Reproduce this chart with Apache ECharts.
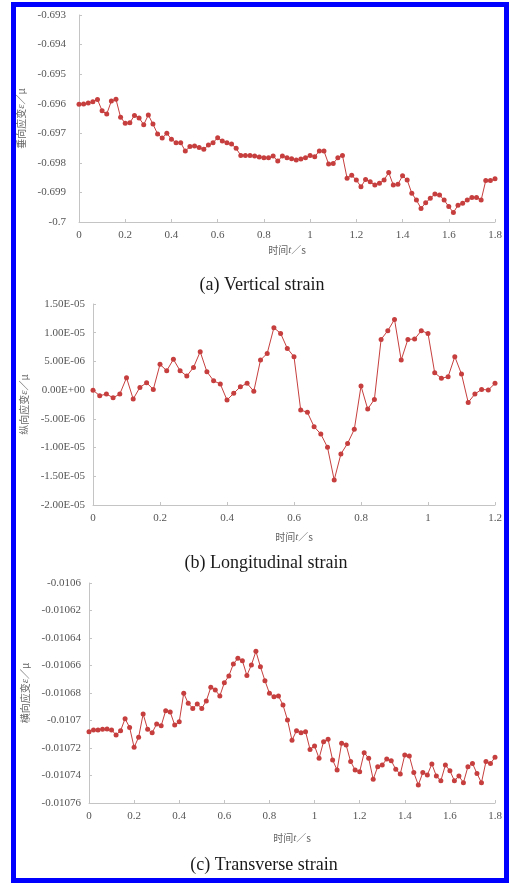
<!DOCTYPE html>
<html>
<head>
<meta charset="utf-8">
<script src="https://cdn.jsdelivr.net/npm/echarts@6/dist/echarts.min.js"></script>
<style>
    html, body { margin: 0; padding: 0; background: #fff; }
    #chart { position: absolute; left: 0; top: 0; width: 509px; height: 883px; }
    #frame { position: absolute; left: 11px; top: 2px; width: 498px; height: 881px;
             box-sizing: border-box; border: 5px solid #0000ff; pointer-events: none; }
</style>
</head>
<body>
<div id="chart"></div>
<div id="frame"></div>
<script>
// sampling step of all three records (s)
var dt = 0.02;

// (a) vertical strain, 0 - 1.8 s
var verticalStrain = [
    -0.69602, -0.69601, -0.69598, -0.69593, -0.69586, -0.69624, -0.69635, -0.69591, -0.69585, -0.69646,
    -0.69666, -0.69664, -0.69640, -0.69648, -0.69671, -0.69638, -0.69669, -0.69702, -0.69716, -0.69700,
    -0.69720, -0.69732, -0.69732, -0.69760, -0.69745, -0.69743, -0.69748, -0.69754, -0.69740, -0.69732,
    -0.69715, -0.69726, -0.69732, -0.69736, -0.69751, -0.69775, -0.69775, -0.69775, -0.69777, -0.69780,
    -0.69783, -0.69783, -0.69777, -0.69794, -0.69777, -0.69783, -0.69786, -0.69790, -0.69787, -0.69783,
    -0.69775, -0.69779, -0.69760, -0.69760, -0.69804, -0.69802, -0.69783, -0.69775, -0.69852, -0.69842,
    -0.69858, -0.69881, -0.69856, -0.69864, -0.69875, -0.69869, -0.69858, -0.69833, -0.69875, -0.69872,
    -0.69844, -0.69858, -0.69903, -0.69926, -0.69954, -0.69935, -0.69920, -0.69905, -0.69909, -0.69926,
    -0.69948, -0.69968, -0.69943, -0.69937, -0.69926, -0.69917, -0.69917, -0.69926, -0.69860, -0.69860,
    -0.69854
];

// (b) longitudinal strain, 0 - 1.2 s, in units of 1E-06
var longitudinalStrain = [
    0, -0.97, -0.68, -1.32, -0.68, 2.16, -1.55, 0.48, 1.29, 0.13,
    4.49, 3.38, 5.36, 3.38, 2.45, 3.96, 6.69, 3.21, 1.64, 1.06,
    -1.72, -0.56, 0.60, 1.18, -0.20, 5.24, 6.40, 10.87, 9.88, 7.27,
    5.82, -3.46, -3.87, -6.37, -7.64, -9.96, -15.65, -11.12, -9.27, -6.83,
    0.71, -3.29, -1.61, 8.84, 10.35, 12.32, 5.24, 8.84, 8.90, 10.35,
    9.88, 3.03, 2.05, 2.34, 5.82, 2.80, -2.13, -0.68, 0.13, 0.02,
    1.18
];
var longitudinalUnit = 1e-6;

// (c) transverse strain, 0 - 1.8 s, in units of 1E-06
var transverseStrain = [
    -10708.1, -10706.9, -10706.9, -10706.4, -10706.2, -10706.9, -10710.5, -10707.4, -10698.7, -10705.0,
    -10719.5, -10712.2, -10695.3, -10706.4, -10708.9, -10702.5, -10703.8, -10692.9, -10693.8, -10703.3,
    -10700.9, -10680.2, -10687.5, -10691.2, -10688.0, -10691.2, -10685.8, -10675.9, -10677.8, -10682.2,
    -10672.5, -10667.6, -10658.9, -10654.8, -10656.5, -10667.2, -10659.6, -10649.7, -10660.9, -10671.0,
    -10680.2, -10682.7, -10682.2, -10688.7, -10699.6, -10714.4, -10707.4, -10708.9, -10708.1, -10721.0,
    -10718.5, -10727.5, -10715.4, -10713.7, -10728.7, -10736.0, -10716.6, -10717.8, -10729.9, -10736.0,
    -10737.2, -10723.4, -10727.5, -10742.8, -10733.6, -10732.4, -10728.0, -10729.2, -10735.5, -10738.9,
    -10725.1, -10725.8, -10737.9, -10746.9, -10737.9, -10739.6, -10731.6, -10740.4, -10743.8, -10732.4,
    -10736.5, -10743.8, -10740.4, -10745.2, -10733.6, -10731.2, -10738.5, -10745.2, -10729.9, -10731.2,
    -10726.8
];
var transverseUnit = 1e-6;

var captions = ['(a) Vertical strain', '(b) Longitudinal strain', '(c) Transverse strain'];
var yNames = ['垂向应变{i|ε}／μ', '纵向应变{i|ε}／μ', '横向应变{i|ε}／μ'];
var xName = '时间{i|t}／s';

var lineColor = '#c63f3e';
var axisColor = '#c4c4c4';
var labelColor = '#555';

function toPairs(values, unit) {
    return values.map(function (v, i) {
        return [+(i * dt).toFixed(2), +(v * (unit || 1)).toPrecision(8)];
    });
}

function sci(v) {
    // 1.50E-05 style
    return v.toExponential(2).replace(/e([+-])(\d)$/, 'E$10$2').replace(/e([+-])(\d\d)$/, 'E$1$2');
}

var nameRich = { i: { fontStyle: 'italic', fontFamily: 'Liberation Serif', fontSize: 11, color: '#666' } };

function xAxisFor(grid, max, gap) {
    return {
        type: 'value',
        gridIndex: grid,
        min: 0,
        max: max,
        interval: 0.2,
        name: xName,
        nameLocation: 'middle',
        nameGap: gap,
        nameTextStyle: { color: '#666', fontSize: 10, fontFamily: 'Noto Sans CJK SC', rich: nameRich },
        axisLine: { onZero: false, lineStyle: { color: axisColor } },
        axisTick: { inside: true, length: 3, lineStyle: { color: axisColor } },
        axisLabel: {
            color: labelColor, fontSize: 11, fontFamily: 'Liberation Serif', margin: 8,
            formatter: function (v) { return String(+v.toFixed(2)); }
        },
        splitLine: { show: false }
    };
}

function yAxisFor(grid, min, max, step, gap, margin, fmt) {
    return {
        type: 'value',
        gridIndex: grid,
        min: min,
        max: max,
        interval: step,
        name: yNames[grid],
        nameLocation: 'middle',
        nameGap: gap,
        nameTextStyle: { color: '#666', fontSize: 10, fontFamily: 'Noto Sans CJK SC', rich: nameRich },
        axisLine: { show: true, onZero: false, lineStyle: { color: axisColor } },
        axisTick: { show: true, inside: true, length: 3, lineStyle: { color: axisColor } },
        axisLabel: { color: labelColor, fontSize: 11, fontFamily: 'Liberation Serif', margin: margin, formatter: fmt },
        splitLine: { show: false }
    };
}

function lineSeries(idx, data) {
    return {
        type: 'line',
        xAxisIndex: idx,
        yAxisIndex: idx,
        data: data,
        symbol: 'circle',
        symbolSize: 5,
        itemStyle: { color: lineColor },
        lineStyle: { color: lineColor, width: 1 }
    };
}

var chart = echarts.init(document.getElementById('chart'));

var option = {
    animation: false,
    backgroundColor: '#fff',
    grid: [
        { left: 79, right: 14, top: 15, height: 207 },
        { left: 93, right: 14, top: 304, height: 201 },
        { left: 89, right: 14, top: 583, height: 220 }
    ],
    xAxis: [
        xAxisFor(0, 1.8, 23),
        xAxisFor(1, 1.2, 27),
        xAxisFor(2, 1.8, 30)
    ],
    yAxis: [
        yAxisFor(0, -0.7, -0.693, 0.001, 47, 13, function (v) { return String(+v.toFixed(4)); }),
        yAxisFor(1, -2e-5, 1.5e-5, 5e-6, 57, 8, sci),
        yAxisFor(2, -0.01076, -0.0106, 0.00002, 53, 8, function (v) { return String(+v.toFixed(5)); })
    ],
    series: [
        lineSeries(0, toPairs(verticalStrain)),
        lineSeries(1, toPairs(longitudinalStrain, longitudinalUnit)),
        lineSeries(2, toPairs(transverseStrain, transverseUnit))
    ],
    graphic: [
        { type: 'text', x: 262, y: 285, style: { text: captions[0], fill: '#1a1a1a', font: '18px "Liberation Serif"', textAlign: 'center', textVerticalAlign: 'middle' } },
        { type: 'text', x: 266, y: 563, style: { text: captions[1], fill: '#1a1a1a', font: '18px "Liberation Serif"', textAlign: 'center', textVerticalAlign: 'middle' } },
        { type: 'text', x: 264, y: 865, style: { text: captions[2], fill: '#1a1a1a', font: '18px "Liberation Serif"', textAlign: 'center', textVerticalAlign: 'middle' } }
    ]
};

chart.setOption(option);
</script>
</body>
</html>
